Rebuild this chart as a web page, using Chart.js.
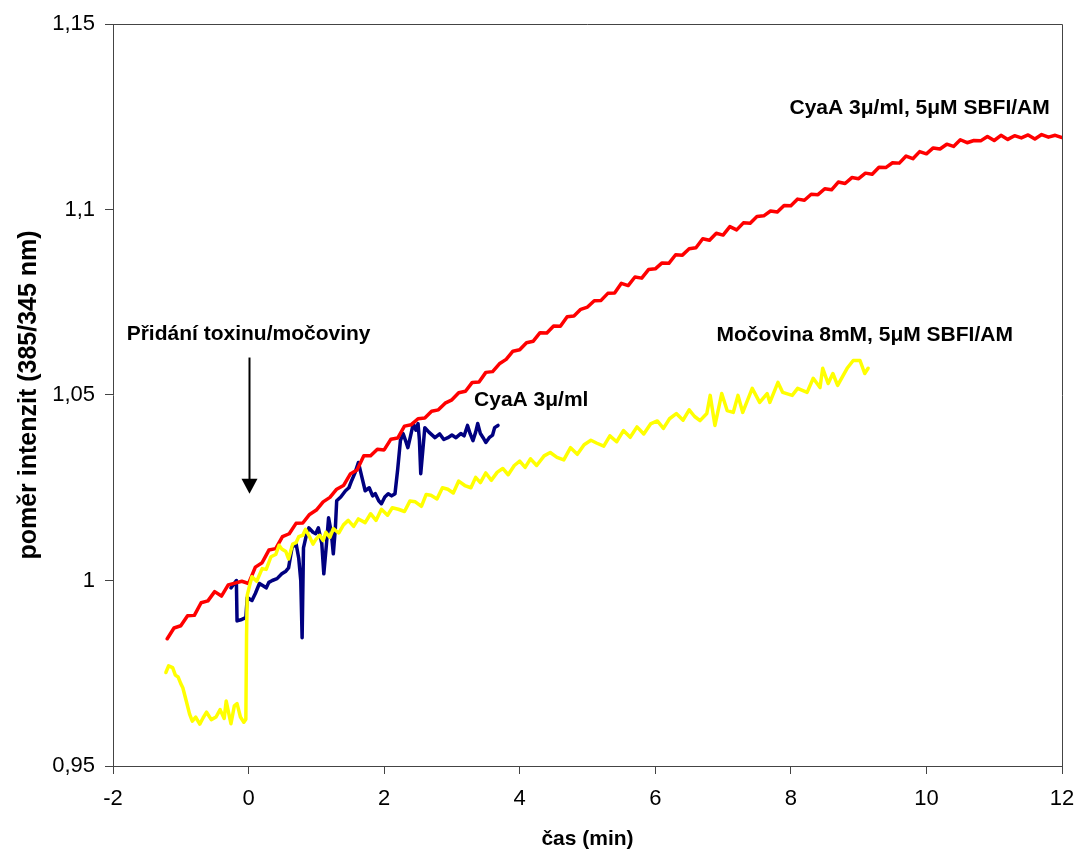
<!DOCTYPE html>
<html>
<head>
<meta charset="utf-8">
<script src="https://cdn.jsdelivr.net/npm/chart.js@4.4.1/dist/chart.umd.min.js"></script>
<style>
  html, body { margin: 0; padding: 0; background: #fff; }
  #graf { display: block; }
</style>
</head>
<body>
<canvas id="graf" width="1077" height="855"></canvas>
<script>
// CyaA 3µ/ml, 5µM SBFI/AM (cervena)
const redX = [-1.2,-1.1,-1.0,-0.9,-0.8,-0.7,-0.6,-0.5,-0.4,-0.3,-0.2,-0.1,0.0,0.1,0.2,0.3,0.4,0.5,0.6,0.7,0.8,0.9,
  1.0,1.1,1.2,1.3,1.4,1.5,1.6,1.7,1.8,1.9,2.0,2.1,2.2,2.3,2.4,2.5,2.6,2.7,2.8,2.9,3.0,3.1,3.2,3.3,3.4,3.5,3.6,3.7,3.8,3.9,
  4.0,4.1,4.2,4.3,4.4,4.5,4.6,4.7,4.8,4.9,5.0,5.1,5.2,5.3,5.4,5.5,5.6,5.7,5.8,5.9,6.0,6.1,6.2,6.3,6.4,6.5,6.6,6.7,6.8,6.9,
  7.0,7.1,7.2,7.3,7.4,7.5,7.6,7.7,7.8,7.9,8.0,8.1,8.2,8.3,8.4,8.5,8.6,8.7,8.8,8.9,9.0,9.1,9.2,9.3,9.4,9.5,9.6,9.7,9.8,9.9,
  10.0,10.1,10.2,10.3,10.4,10.5,10.6,10.7,10.8,10.9,11.0,11.1,11.2,11.3,11.4,11.5,11.6,11.7,11.8,11.9,12.0];
const redY = [0.9843,0.9872,0.9878,0.9905,0.9906,0.9940,0.9945,0.9970,0.9958,0.9988,0.9993,0.9998,0.9992,1.0036,1.0048,1.0082,1.0086,1.0118,1.0126,1.0154,1.0155,1.0178,
  1.0190,1.0212,1.0224,1.0246,1.0256,1.0287,1.0298,1.0336,1.0336,1.0354,1.0352,1.0381,1.0384,1.0416,1.0420,1.0436,1.0438,1.0456,1.0460,1.0478,1.0487,1.0506,1.0510,1.0534,1.0535,1.0561,1.0563,1.0584,1.0596,1.0618,
  1.0622,1.0641,1.0645,1.0668,1.0667,1.0686,1.0685,1.0711,1.0713,1.0731,1.0737,1.0754,1.0755,1.0774,1.0775,1.0801,1.0795,1.0818,1.0815,1.0838,1.0840,1.0856,1.0855,1.0878,1.0877,1.0894,1.0897,1.0921,1.0917,1.0936,
  1.0931,1.0954,1.0945,1.0964,1.0963,1.0981,1.0983,1.0996,1.0993,1.1011,1.1010,1.1028,1.1025,1.1041,1.1040,1.1056,1.1053,1.1074,1.1070,1.1086,1.1083,1.1098,1.1095,1.1114,1.1113,1.1126,1.1125,1.1144,1.1137,1.1156,
  1.1150,1.1166,1.1163,1.1176,1.1170,1.1188,1.1180,1.1186,1.1185,1.1197,1.1186,1.1200,1.1189,1.1199,1.1193,1.1201,1.1190,1.1202,1.1195,1.1200,1.1194];

// Močovina 8mM, 5µM SBFI/AM (zluta)
const yellowX = [-1.22,-1.18,-1.12,-1.08,-1.04,-1.0,-0.97,-0.92,-0.87,-0.83,-0.78,-0.72,-0.67,-0.62,-0.55,-0.48,-0.42,-0.36,-0.33,-0.29,-0.26,-0.21,-0.17,-0.12,-0.07,-0.04,
  -0.03,-0.02,0.02,0.05,0.12,0.2,0.26,0.33,0.4,0.45,0.49,0.55,0.59,0.65,0.7,0.74,0.8,0.84,0.9,0.95,0.99,1.05,1.1,1.14,1.2,1.25,1.33,1.4,1.47,1.55,1.62,1.72,1.8,1.88,1.96,
  2.05,2.12,2.21,2.3,2.38,2.46,2.55,2.62,2.69,2.78,2.86,2.94,3.02,3.1,3.19,3.28,3.35,3.42,3.5,3.58,3.67,3.75,3.83,3.92,4.0,4.08,4.16,4.25,4.36,4.45,4.55,4.65,4.75,4.85,4.95,
  5.05,5.14,5.24,5.33,5.43,5.53,5.63,5.73,5.83,5.93,6.03,6.12,6.21,6.31,6.41,6.5,6.58,6.66,6.76,6.81,6.88,6.98,7.06,7.15,7.22,7.29,7.43,7.54,7.65,7.69,7.81,7.88,
  8.02,8.1,8.24,8.33,8.43,8.47,8.55,8.62,8.69,8.83,8.92,9.02,9.09,9.14];
const yellowY = [0.9752,0.9770,0.9765,0.9745,0.9740,0.9722,0.9711,0.9676,0.9640,0.9621,0.9632,0.9613,0.9630,0.9645,0.9625,0.9632,0.9652,0.9628,0.9675,0.9640,0.9614,0.9662,0.9668,0.9632,0.9618,0.9626,
  0.9850,0.9960,0.9990,1.0010,0.9998,1.0032,1.0030,1.0064,1.0070,1.0095,1.0085,1.0078,1.0058,1.0098,1.0102,1.0118,1.0122,1.0138,1.0118,1.0098,1.0110,1.0122,1.0108,1.0130,1.0116,1.0140,1.0128,1.0150,1.0162,1.0146,1.0166,1.0156,1.0180,1.0162,1.0192,
  1.0176,1.0196,1.0192,1.0186,1.0214,1.0212,1.0200,1.0232,1.0230,1.0220,1.0250,1.0246,1.0236,1.0268,1.0256,1.0250,1.0278,1.0264,1.0290,1.0270,1.0292,1.0302,1.0285,1.0310,1.0322,1.0305,1.0328,1.0310,1.0336,1.0345,1.0332,1.0325,1.0358,1.0340,1.0366,
  1.0378,1.0370,1.0362,1.0390,1.0374,1.0404,1.0386,1.0414,1.0395,1.0422,1.0430,1.0410,1.0436,1.0450,1.0432,1.0460,1.0442,1.0431,1.0450,1.0499,1.0418,1.0504,1.0458,1.0453,1.0499,1.0453,1.0518,1.0480,1.0504,1.0480,1.0534,1.0507,
  1.0499,1.0518,1.0507,1.0545,1.0520,1.0572,1.0531,1.0558,1.0526,1.0572,1.0593,1.0593,1.0558,1.0572];

// CyaA 3µ/ml (modra)
const blueX = [-0.26,-0.18,-0.17,-0.1,-0.04,-0.02,0.05,0.1,0.16,0.22,0.26,0.3,0.35,0.42,0.49,0.55,0.59,0.64,0.7,0.74,0.77,0.79,0.81,0.85,0.89,0.95,0.99,
  1.03,1.08,1.11,1.15,1.18,1.22,1.25,1.28,1.30,1.36,1.43,1.48,1.52,1.57,1.62,1.67,1.72,1.78,1.83,1.87,1.92,1.96,2.01,2.06,2.11,2.16,2.2,2.24,2.28,2.32,2.35,2.39,2.43,2.47,2.5,2.52,2.54,2.57,
  2.6,2.66,2.75,2.82,2.88,2.94,3.0,3.06,3.13,3.18,3.23,3.27,3.31,3.35,3.38,3.42,3.46,3.5,3.55,3.6,3.63,3.68];
const blueY = [0.9980,1.0000,0.9891,0.9895,0.9900,0.9954,0.9946,0.9965,0.9992,0.9985,0.9980,0.9995,1.0000,1.0005,1.0018,1.0025,1.0034,1.0088,1.0100,1.0060,1.0000,0.9846,1.0088,1.0120,1.0142,1.0130,1.0126,
  1.0142,1.0100,1.0018,1.0100,1.0169,1.0130,1.0072,1.0140,1.0215,1.0225,1.0242,1.0250,1.0269,1.0290,1.0318,1.0280,1.0242,1.0250,1.0228,1.0234,1.0215,1.0207,1.0225,1.0234,1.0228,1.0234,1.0300,1.0377,1.0396,1.0375,1.0358,1.0390,1.0423,1.0405,1.0423,1.0380,1.0288,1.0350,
  1.0412,1.0400,1.0385,1.0395,1.0380,1.0385,1.0392,1.0385,1.0396,1.0390,1.0418,1.0395,1.0377,1.0400,1.0423,1.0396,1.0385,1.0372,1.0385,1.0392,1.0412,1.0418];

const xTicks = [-2, 0, 2, 4, 6, 8, 10, 12];
const yTicks = [0.95, 1.0, 1.05, 1.1, 1.15];

function body(xs, ys) {
  return xs.map((x, i) => ({ x: x, y: ys[i] }));
}

// popisky v grafu (pozice v jednotkach os)
const popisky = [
  { text: 'CyaA 3μ/ml, 5μM SBFI/AM', x: 9.90, y: 1.1273 },
  { text: 'Močovina 8mM, 5μM SBFI/AM', x: 9.09, y: 1.066 },
  { text: 'CyaA 3μ/ml', x: 4.17, y: 1.0485 },
  { text: 'Přidání toxinu/močoviny', x: 0.0, y: 1.0663 }
];
const sipka = { x: 0, y1: 1.0601, y2: 1.0234 };

const ramecek = {
  id: 'ramecek',
  afterDatasetsDraw(chart) {
    const ctx = chart.ctx;
    const a = chart.chartArea;
    const sx = chart.scales.x, sy = chart.scales.y;
    ctx.save();
    ctx.strokeStyle = '#444';
    ctx.lineWidth = 1;
    ctx.beginPath();
    ctx.moveTo(a.left, a.top + 0.5);
    ctx.lineTo(a.right + 0.5, a.top + 0.5);
    ctx.lineTo(a.right + 0.5, a.bottom);
    ctx.stroke();

    ctx.fillStyle = '#000';
    ctx.font = 'bold 21px "Liberation Sans", Arial, sans-serif';
    ctx.textAlign = 'center';
    ctx.textBaseline = 'middle';
    popisky.forEach(p => {
      ctx.fillText(p.text, sx.getPixelForValue(p.x), sy.getPixelForValue(p.y));
    });

    // sipka
    const ax = Math.round(sx.getPixelForValue(sipka.x)) + 0.5;
    const ay1 = sy.getPixelForValue(sipka.y1);
    const ay2 = sy.getPixelForValue(sipka.y2);
    ctx.strokeStyle = '#000';
    ctx.lineWidth = 2;
    ctx.beginPath();
    ctx.moveTo(ax, ay1);
    ctx.lineTo(ax, ay2 - 14);
    ctx.stroke();
    ctx.beginPath();
    ctx.moveTo(ax - 8, ay2 - 15);
    ctx.lineTo(ax + 8, ay2 - 15);
    ctx.lineTo(ax, ay2);
    ctx.closePath();
    ctx.fill();
    ctx.restore();
  }
};

const ctx = document.getElementById('graf').getContext('2d');
new Chart(ctx, {
  type: 'scatter',
  data: {
    datasets: [
      { label: 'Močovina 8mM, 5μM SBFI/AM', data: body(yellowX, yellowY), borderColor: '#FFFF00', backgroundColor: '#FFFF00' },
      { label: 'CyaA 3μ/ml, 5μM SBFI/AM', data: body(redX, redY), borderColor: '#FF0000', backgroundColor: '#FF0000' },
      { label: 'CyaA 3μ/ml', data: body(blueX, blueY), borderColor: '#000080', backgroundColor: '#000080' }
    ]
  },
  options: {
    responsive: false,
    animation: false,
    showLine: true,
    layout: { padding: { top: 24, right: 15, left: 0, bottom: 0 } },
    elements: {
      point: { radius: 0, hoverRadius: 0 },
      line: { borderWidth: 3.5, tension: 0, borderJoinStyle: 'round', borderCapStyle: 'round' }
    },
    plugins: { legend: { display: false }, tooltip: { enabled: false } },
    scales: {
      x: {
        type: 'linear',
        min: -2,
        max: 12,
        afterBuildTicks: s => { s.ticks = xTicks.map(v => ({ value: v })); },
        afterFit: s => { s.height = 89; s.paddingLeft = 0; s.paddingRight = 0; },
        ticks: {
          color: '#000',
          font: { family: '"Liberation Sans", Arial, sans-serif', size: 22 },
          padding: 12,
          maxRotation: 0
        },
        grid: { drawOnChartArea: false, drawTicks: true, tickLength: 8, color: '#444' },
        border: { display: true, color: '#444', width: 1 },
        title: {
          display: true,
          text: 'čas (min)',
          color: '#000',
          font: { family: '"Liberation Sans", Arial, sans-serif', size: 21, weight: 'bold' },
          padding: { top: 0, bottom: 3 }
        }
      },
      y: {
        min: 0.95,
        max: 1.15,
        afterBuildTicks: s => { s.ticks = yTicks.map(v => ({ value: v })); },
        afterFit: s => { s.width = 113; s.paddingTop = 0; s.paddingBottom = 0; },
        ticks: {
          color: '#000',
          font: { family: '"Liberation Sans", Arial, sans-serif', size: 22 },
          padding: 10,
          callback: v => String(Math.round(v * 100) / 100).replace('.', ',')
        },
        grid: { drawOnChartArea: false, drawTicks: true, tickLength: 8, color: '#444' },
        border: { display: true, color: '#444', width: 1 },
        title: {
          display: true,
          text: 'poměr intenzit (385/345 nm)',
          color: '#000',
          font: { family: '"Liberation Sans", Arial, sans-serif', size: 25, weight: 'bold' },
          padding: { top: 14, bottom: 0 }
        }
      }
    }
  },
  plugins: [ramecek]
});
</script>
</body>
</html>
